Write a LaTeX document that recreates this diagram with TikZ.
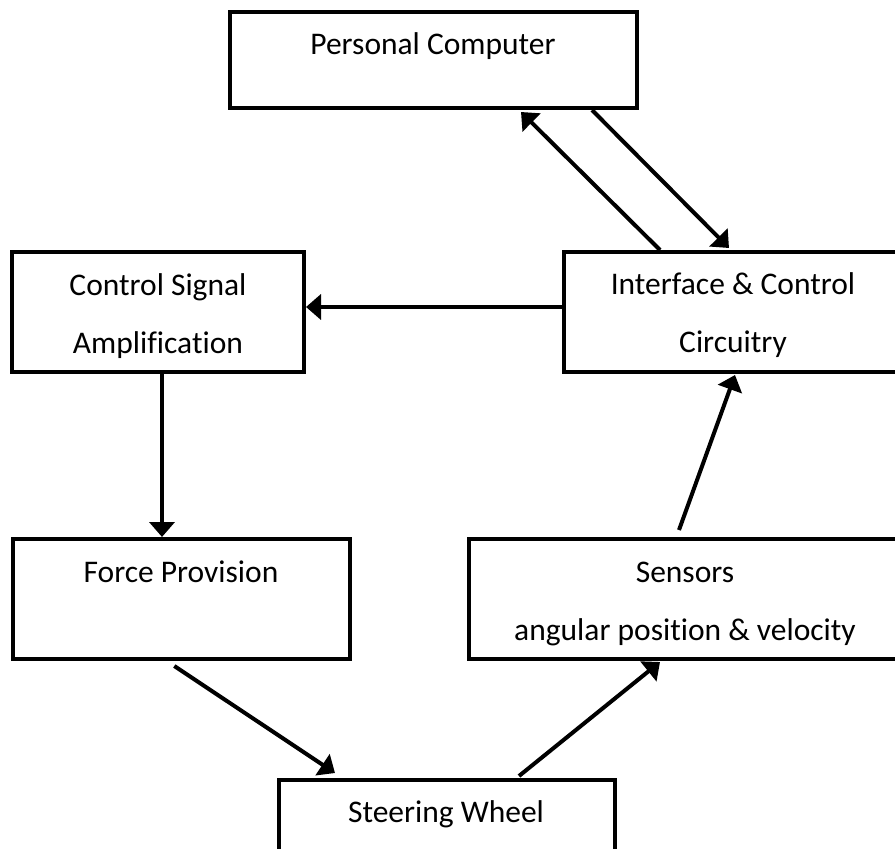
\documentclass[tikz,border=0pt]{standalone}
\usepackage{fontspec}
\setmainfont{Carlito}[Ligatures={NoCommon}]
\usetikzlibrary{arrows.meta,calc}
\tikzset{
  blockbox/.style={draw=black, line width=4pt, rectangle, inner sep=0pt, fill=white},
  lbl/.style={anchor=base, inner sep=0pt, font=\fontsize{31.5}{38}\selectfont},
  flow/.style={line width=4pt, -{Triangle[length=15pt,width=25pt]}}
}
\begin{document}
\begin{tikzpicture}[x=1pt, y=-1pt]
\useasboundingbox (0,0) rectangle (895,849);
\clip (0,0) rectangle (895,849);
\fill[white] (0,0) rectangle (895,849);

% blocks
\node[blockbox, minimum width=407pt, minimum height=96pt]  (pc) at (433.5,60)  {};
\node[blockbox, minimum width=292pt, minimum height=120pt] (cs) at (158,312)   {};
\node[blockbox, minimum width=351pt, minimum height=120pt] (ic) at (739.5,312) {};
\node[blockbox, minimum width=337pt, minimum height=120pt] (fp) at (181.3,599) {};
\node[blockbox, minimum width=446pt, minimum height=120pt] (sn) at (692,599)   {};
\node[blockbox, minimum width=336pt, minimum height=100pt] (sw) at (447,830)   {};

% block texts
\node[lbl] (pct)  at (433,54)  {Personal Computer};
\node[lbl] (cst1) at (158,295) {Control Signal};
\node[lbl] (cst2) at (158,353) {Amplification};
\node[lbl] (ict1) at (733,294) {Interface \& Control};
\node[lbl] (ict2) at (733,352) {Circuitry};
\node[lbl] (fpt)  at (181,582) {Force Provision};
\node[lbl] (snt1) at (685,582) {Sensors};
\node[lbl] (snt2) at (685,640) {angular position \& velocity};
\node[lbl] (swt)  at (446,822) {Steering Wheel};

% connectors
\draw[flow] ([yshift=5pt]ic.west) -- ([yshift=5pt]cs.east);
\draw[flow] ([xshift=4pt]cs.south) -- ([xshift=4pt]cs.south |- fp.north);
\draw[flow] ([xshift=-7pt,yshift=-5pt]fp.south) -- ([xshift=58pt,yshift=5pt]sw.north west);
\draw[flow] ([xshift=72pt,yshift=2pt]sw.north) -- ([xshift=193pt,yshift=-1pt]sn.south west);
\draw[flow] ([xshift=-13pt,yshift=7pt]sn.north) -- ([xshift=-4.5pt,yshift=-1pt]ic.south);
\draw[flow] ([xshift=98pt]ic.north west) -- ([xshift=-118pt,yshift=-2pt]pc.south east);
\draw[flow] ([xshift=-47pt]pc.south east) -- ([xshift=167pt,yshift=2pt]ic.north west);
\end{tikzpicture}
\end{document}
